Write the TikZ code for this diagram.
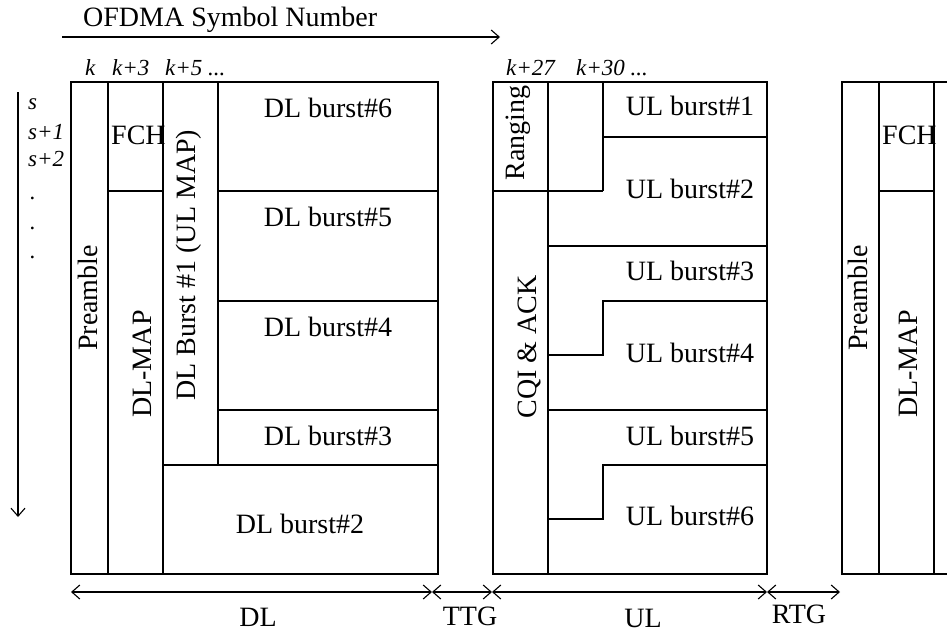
\documentclass[tikz,border=0pt]{standalone}
\usepackage{fontspec}
\setmainfont{Liberation Serif}
\usetikzlibrary{arrows.meta}
\begin{document}
\begin{tikzpicture}[x=1pt,y=-1pt,
  box/.style={line width=1.2pt},
  lbl/.style={font=\fontsize{28}{30}\selectfont, inner sep=0pt},
  vlbl/.style={lbl, rotate=90, anchor=base},
  idx/.style={font=\fontsize{23}{25}\selectfont\itshape, inner sep=0pt, anchor=base west},
  barb/.tip={Straight Barb[length=8pt,width=14pt]},
  dim/.style={line width=1.1pt, barb-barb},
  axis/.style={line width=1.1pt, -barb},
]
\useasboundingbox (0,0) rectangle (947,632);

% ---------------- DL frame ----------------
\draw[box] (71,82) rectangle (438,574);
\draw[box] (108,82) -- (108,574);
\draw[box] (163,82) -- (163,574);
\draw[box] (218,82) -- (218,465);
\draw[box] (108,191) -- (163,191);
\draw[box] (218,191) -- (438,191);
\draw[box] (218,301) -- (438,301);
\draw[box] (218,410) -- (438,410);
\draw[box] (163,465) -- (438,465);

\node[vlbl] (pre1) at (97,298) {Preamble};
\node[vlbl] (dlmap1) at (151,364) {DL-MAP};
\node[vlbl] (dlb1) at (195,265) {DL Burst \#1 (UL MAP)};
\node[lbl, anchor=base west] (fch1) at (111,144) {FCH};
\node[lbl, anchor=base] (dlb6) at (328,117) {DL burst\#6};
\node[lbl, anchor=base] (dlb5) at (328,226) {DL burst\#5};
\node[lbl, anchor=base] (dlb4) at (328,336) {DL burst\#4};
\node[lbl, anchor=base] (dlb3) at (328,445) {DL burst\#3};
\node[lbl, anchor=base] (dlb2) at (300,533) {DL burst\#2};

% ---------------- UL frame ----------------
\draw[box] (493,82) rectangle (767,574);
\draw[box] (548,82) -- (548,574);
\draw[box] (603,82) -- (603,191);
\draw[box] (493,191) -- (603,191);
\draw[box] (603,137) -- (767,137);
\draw[box] (548,246) -- (767,246);
\draw[box] (767,301) -- (603,301) -- (603,355) -- (548,355);
\draw[box] (548,410) -- (767,410);
\draw[box] (767,465) -- (603,465) -- (603,519) -- (548,519);

\node[vlbl] (rng) at (524,133) {Ranging};
\node[vlbl] (cqi) at (536,347) {CQI \& ACK};
\node[lbl, anchor=base] (ulb1) at (690,115) {UL burst\#1};
\node[lbl, anchor=base] (ulb2) at (690,198) {UL burst\#2};
\node[lbl, anchor=base] (ulb3) at (690,280) {UL burst\#3};
\node[lbl, anchor=base] (ulb4) at (690,362) {UL burst\#4};
\node[lbl, anchor=base] (ulb5) at (690,445) {UL burst\#5};
\node[lbl, anchor=base] (ulb6) at (690,525) {UL burst\#6};

% ---------------- next frame ----------------
\draw[box] (947,82) -- (842,82) -- (842,574) -- (947,574);
\draw[box] (879,82) -- (879,574);
\draw[box] (934,82) -- (934,574);
\draw[box] (879,191) -- (934,191);
\node[vlbl] (pre2) at (867,298) {Preamble};
\node[vlbl] (dlmap2) at (917,364) {DL-MAP};
\node[lbl, anchor=base west] (fch2) at (882,144) {FCH};

% ---------------- axes ----------------
\node[lbl, anchor=base west] (title) at (83,26) {OFDMA Symbol Number};
\coordinate (ax0) at (62,37);
\coordinate (ax1) at (500,37);
\draw[axis] (ax0) -- (ax1);

\coordinate (ay0) at (18,92);
\coordinate (ay1) at (18,517);
\draw[axis] (ay0) -- (ay1);

\node[idx] (k0) at (85,75) {k};
\node[idx] (k3) at (112,75) {k+3};
\node[idx] (k5) at (165,75) {k+5 ...};
\node[idx] (k27) at (506,75) {k+27};
\node[idx] (k30) at (576,75) {k+30 ...};

\node[idx] (s0) at (28,109) {s};
\node[idx] (s1) at (28,139) {s+1};
\node[idx] (s2) at (28,166) {s+2};
\node[idx] (d1) at (30,199) {.};
\node[idx] (d2) at (30,229) {.};
\node[idx] (d3) at (30,258) {.};

% ---------------- bottom dimensions ----------------
\coordinate (b0) at (71,592);
\coordinate (b1) at (432,592);
\coordinate (b2) at (492,592);
\coordinate (b3) at (767,592);
\coordinate (b4) at (840,592);
\draw[dim] (b0) -- (b1);
\draw[dim] (b1) -- (b2);
\draw[dim] (b2) -- (b3);
\draw[dim] (b3) -- (b4);

\node[lbl, anchor=base] (tdl) at (258,626) {DL};
\node[lbl, anchor=base] (tttg) at (470,625) {TTG};
\node[lbl, anchor=base] (tul) at (643,627) {UL};
\node[lbl, anchor=base] (trtg) at (799,623) {RTG};
\end{tikzpicture}
\end{document}
